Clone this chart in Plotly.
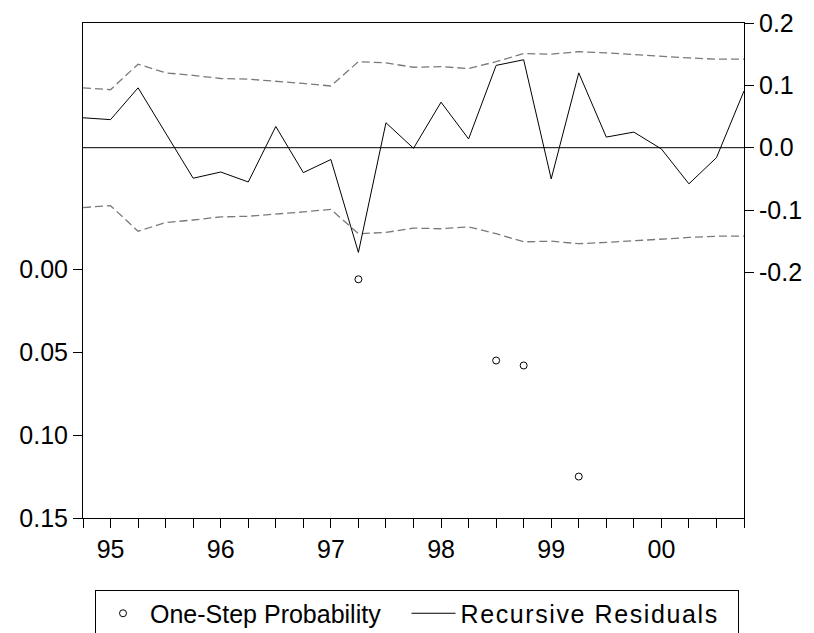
import plotly.graph_objects as go

# Quarterly observations 1994Q4 .. 2000Q4
quarters = ["1994Q4",
            "1995Q1", "1995Q2", "1995Q3", "1995Q4",
            "1996Q1", "1996Q2", "1996Q3", "1996Q4",
            "1997Q1", "1997Q2", "1997Q3", "1997Q4",
            "1998Q1", "1998Q2", "1998Q3", "1998Q4",
            "1999Q1", "1999Q2", "1999Q3", "1999Q4",
            "2000Q1", "2000Q2", "2000Q3", "2000Q4"]

recursive_residuals = [0.048, 0.045, 0.096, 0.023, -0.049, -0.039, -0.055, 0.034,
                       -0.040, -0.019, -0.168, 0.040, -0.001, 0.073, 0.014, 0.132,
                       0.141, -0.050, 0.120, 0.017, 0.025, -0.002, -0.058, -0.016, 0.091]

two_se_band = [0.096, 0.093, 0.134, 0.120, 0.116, 0.111, 0.110, 0.107,
               0.103, 0.099, 0.138, 0.136, 0.129, 0.130, 0.127, 0.138,
               0.151, 0.150, 0.154, 0.152, 0.149, 0.146, 0.144, 0.142, 0.142]

prob_quarters = ["1997Q2", "1998Q3", "1998Q4", "1999Q2"]
one_step_prob = [0.006, 0.055, 0.058, 0.125]

year_ticks = {"1995Q1": "95", "1996Q1": "96", "1997Q1": "97",
              "1998Q1": "98", "1999Q1": "99", "2000Q1": "00"}

left_tickvals = [0.00, 0.05, 0.10, 0.15]
left_ticktext = ["0.00", "0.05", "0.10", "0.15"]
right_tickvals = [-0.2, -0.1, 0.0, 0.1, 0.2]
right_ticktext = ["-0.2", "-0.1", "0.0", "0.1", "0.2"]

FONT = "Liberation Sans, Arial, sans-serif"
FS = 25

# page body has an 8px margin: figure coordinates = screen coordinates - 8
W, H = 806, 625
PL, PR, PT, PB = 75, 736, 15, 510

fig = go.Figure()

fig.add_trace(go.Scatter(
    x=quarters, y=[0] * len(quarters), yaxis="y2", mode="lines",
    line=dict(color="black", width=1), showlegend=False, hoverinfo="skip"))

fig.add_trace(go.Scatter(
    x=quarters, y=two_se_band, yaxis="y2", mode="lines",
    line=dict(color="#7a7a7a", width=1.3, dash="8px,4px"), showlegend=False))
fig.add_trace(go.Scatter(
    x=quarters, y=[-v for v in two_se_band], yaxis="y2", mode="lines",
    line=dict(color="#7a7a7a", width=1.3, dash="8px,4px"), showlegend=False))

fig.add_trace(go.Scatter(
    x=prob_quarters, y=one_step_prob, yaxis="y", mode="markers",
    name="One-Step Probability\u00a0\u00a0\u00a0",
    marker=dict(symbol="circle-open", size=7, color="black", line=dict(width=1))))

fig.add_trace(go.Scatter(
    x=quarters, y=recursive_residuals, yaxis="y2", mode="lines",
    name='<span style="letter-spacing:1.6px">Recursive Residuals</span>\u00a0\u00a0',
    line=dict(color="black", width=1)))

leg_left = (95 - 8 - PL) / (PR - PL)
leg_top = (PB - 581.5) / (PB - PT)

fig.update_layout(
    width=W, height=H,
    margin=dict(l=PL, r=W - PR, t=PT, b=H - PB, autoexpand=False),
    paper_bgcolor="white", plot_bgcolor="white",
    font=dict(family=FONT, size=FS, color="black"),
    xaxis=dict(type="category", range=[0, len(quarters) - 1],
               tickmode="array", tickvals=quarters,
               ticktext=[year_ticks.get(q, "") for q in quarters],
               ticks="outside", ticklen=9, tickcolor="black", tickwidth=1,
               showline=True, linecolor="black", linewidth=1, mirror=True,
               showgrid=False, zeroline=False, automargin=False),
    yaxis=dict(range=[0.15, -0.1486], tickmode="array",
               tickvals=left_tickvals, ticktext=left_ticktext,
               ticks="outside", ticklen=9, tickcolor="black",
               showline=True, linecolor="black", linewidth=1,
               showgrid=False, zeroline=False, automargin=False),
    yaxis2=dict(range=[-0.594, 0.2], overlaying="y", side="right",
                tickmode="array", tickvals=right_tickvals, ticktext=right_ticktext,
                ticks="outside", ticklen=9, tickcolor="black",
                showline=True, linecolor="black", linewidth=1,
                showgrid=False, zeroline=False, automargin=False),
    legend=dict(orientation="h", x=leg_left, xanchor="left", y=leg_top, yanchor="top",
                bordercolor="black", borderwidth=1, bgcolor="white",
                itemwidth=44,
                font=dict(family=FONT, size=FS), traceorder="normal"),
    showlegend=True,
)

fig.write_html("out.html")
